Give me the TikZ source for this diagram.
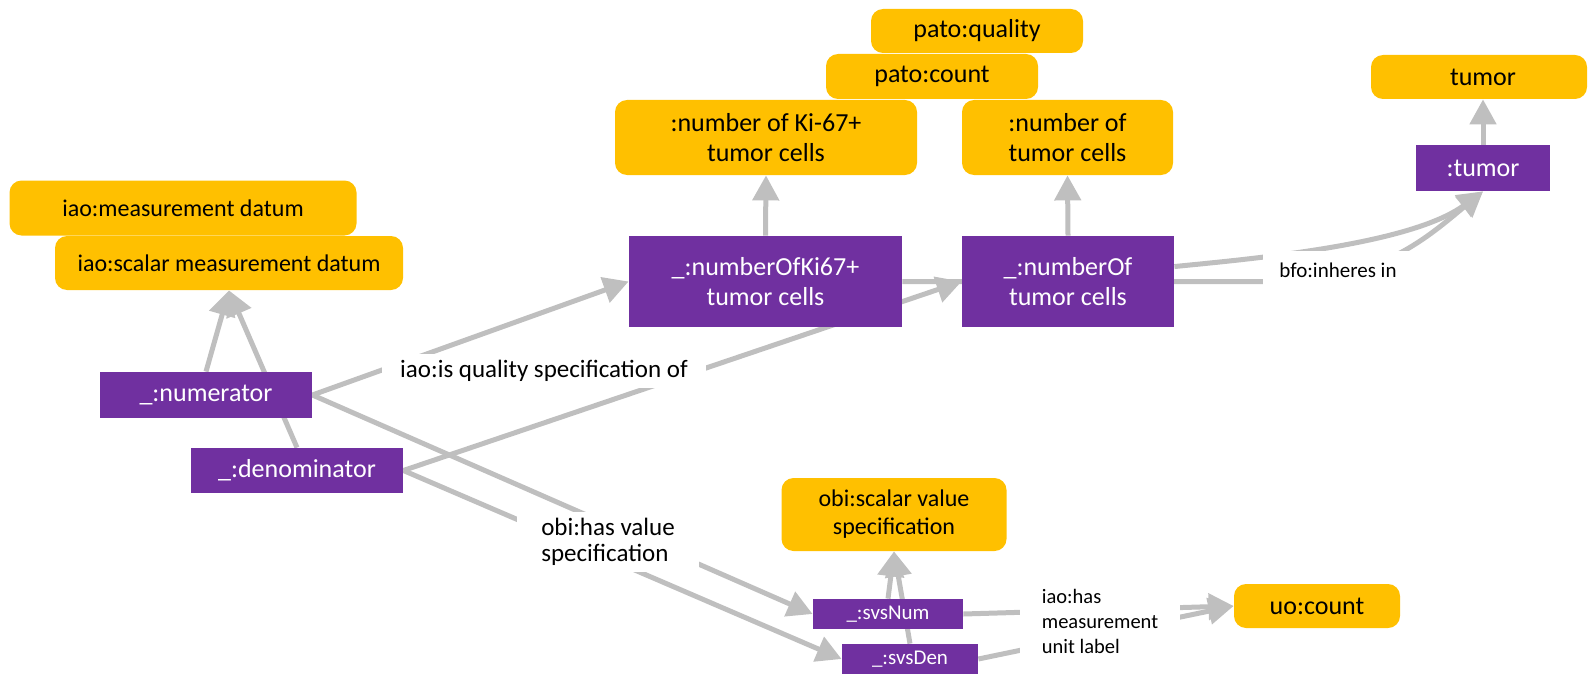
\documentclass[tikz,border=0pt]{standalone}
\usepackage{fontspec}
\setmainfont{Carlito}
\usetikzlibrary{arrows.meta,backgrounds}
\definecolor{owlorange}{HTML}{FFC000}
\definecolor{owlpurple}{HTML}{7030A0}
\definecolor{owlgray}{HTML}{BFBFBF}
\begin{document}
\begin{tikzpicture}[x=0.5pt,y=-0.5pt,
    cls/.style={fill=owlorange,rounded corners=6pt,align=center,inner sep=0pt,font=\fontsize{13}{15}\selectfont},
    ind/.style={fill=owlpurple,text=white,align=center,inner sep=0pt,font=\fontsize{13}{15}\selectfont},
    rel/.style={fill=white,inner xsep=9pt,inner ysep=3pt,align=left,font=\fontsize{12.5}{13}\selectfont},
    small/.style={font=\fontsize{10.5}{12.5}\selectfont},
    link/.style={draw=owlgray,line width=2.5pt,-{Triangle[length=12.5pt,width=13pt]}}]
    \useasboundingbox (0,0) rectangle (1590,674);
    \node[cls,minimum width=106pt,minimum height=22pt] (qual) at (977,31) {pato:quality};
    \node[cls,minimum width=106pt,minimum height=22.5pt] (cnt) at (932,76.5) {pato:count};
    \node[cls,minimum width=151pt,minimum height=37.5pt] (nki) at (766,137.5) {:number of Ki-67+\\tumor cells};
    \node[cls,minimum width=105.5pt,minimum height=37.5pt] (ntc) at (1067.5,137.5) {:number of\\tumor cells};
    \node[cls,minimum width=108pt,minimum height=22pt] (tum) at (1479,77) {\hspace*{4pt}tumor};
    \node[cls,font=\fontsize{12}{14}\selectfont,minimum width=173.5pt,minimum height=27.5pt] (imd) at (183,208) {iao:measurement datum};
    \node[cls,font=\fontsize{12}{14}\selectfont,minimum width=174pt,minimum height=27pt] (ismd) at (229,263) {iao:scalar measurement datum};
    \node[cls,font=\fontsize{12}{14}\selectfont,minimum width=112.5pt,minimum height=36.5pt] (osvs) at (894,514.5) {obi:scalar value\\specification};
    \node[cls,minimum width=83pt,minimum height=22pt] (uoc) at (1317,606) {uo:count};
    \node[ind,minimum width=136.5pt,minimum height=45.5pt] (pki) at (765.5,281.5) {\_:numberOfKi67+\\tumor cells};
    \node[ind,minimum width=106pt,minimum height=45.5pt] (pnt) at (1068,281.5) {\_:numberOf\\tumor cells};
    \node[ind,minimum width=67pt,minimum height=23pt] (ptum) at (1483,168) {:tumor};
    \node[ind,minimum width=106pt,minimum height=23pt] (pnum) at (206,395) {\_:numerator};
    \node[ind,minimum width=106pt,minimum height=22.5pt] (pden) at (297,470.5) {\_:denominator};
    \node[ind,small,minimum width=75pt,minimum height=15pt] (svsn) at (888,614) {\_:svsNum};
    \node[ind,small,minimum width=68pt,minimum height=15pt] (svsd) at (910,659) {\_:svsDen};
    \begin{scope}[on background layer]
    \draw[link] (pnum.north) -- (ismd.south);
    \draw[link] (pden.north) -- (ismd.south);
    \draw[link] (pki.north) -- (nki.south);
    \draw[link] (pnt.north) -- (ntc.south);
    \draw[link] (ptum.north) -- (ptum.north |- tum.south);
    \draw[link] (pnum.east) -- (pki.west);
    \draw[link] (pden.east) -- (pnt.west);
    \draw[link] (pki.east) -- (1280,281.5) .. controls (1380,281.5) and (1430,235) .. (ptum.south);
    \draw[link] (pnt.8) .. controls (1250,259) and (1410,245) .. (ptum.south);
    \draw[link] (pnum.east) -- (svsn.west);
    \draw[link] (pden.east) -- (svsd.west);
    \draw[link] (svsn.north) -- (osvs.south);
    \draw[link] (svsd.north) -- (osvs.south);
    \draw[link] (svsn.east) -- (uoc.west);
    \draw[link] (svsd.east) -- (uoc.west);
    \end{scope}
    \node[rel] (lqs) at (544,371) {iao:is quality specification of};
    \node[rel,inner xsep=12pt] (lhv) at (608,542) {obi:has value\\specification};
    \node[rel,small,inner xsep=8pt,minimum height=19pt] (lin) at (1338,270) {bfo:inheres in};
    \node[rel,font=\fontsize{10.25}{12.5}\selectfont,inner xsep=11pt,inner ysep=2pt] (lmu) at (1100,621) {iao:has\\measurement\\unit label};
\end{tikzpicture}
\end{document}
